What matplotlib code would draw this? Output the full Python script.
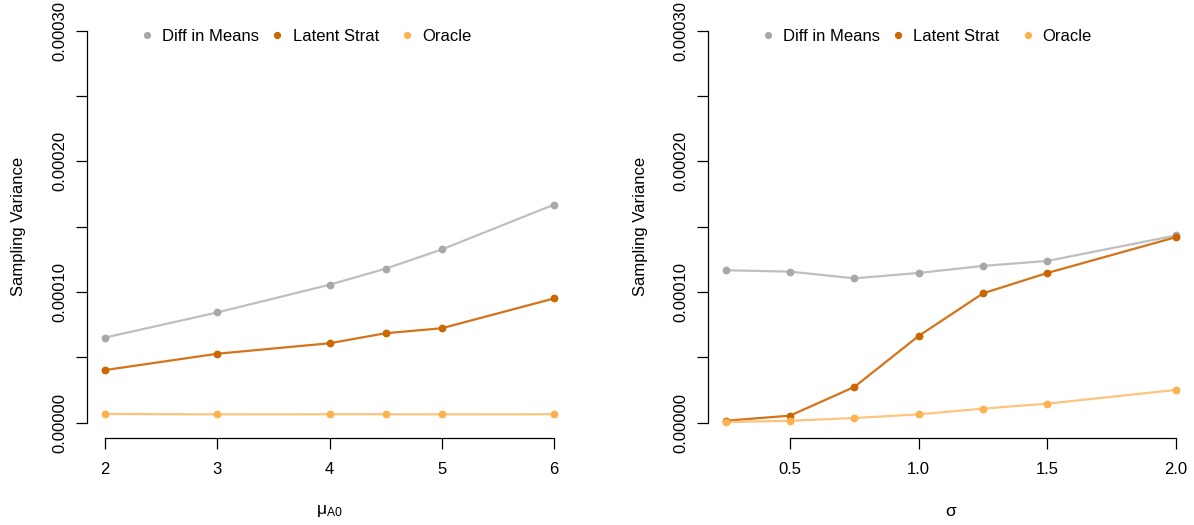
import matplotlib
matplotlib.use("Agg")
import matplotlib.pyplot as plt
from matplotlib.ticker import FixedLocator, FixedFormatter

plt.rcParams['font.family'] = ['Liberation Sans', 'DejaVu Sans']
plt.rcParams['mathtext.fontset'] = 'custom'
plt.rcParams['mathtext.rm'] = 'Liberation Sans'
plt.rcParams['mathtext.it'] = 'Liberation Sans'

# ---------------- data ----------------
series_names = ["Diff in Means", "Latent Strat", "Oracle"]

mu_a0 = [2, 3, 4, 4.5, 5, 6]
mu_diff = [0.0000652, 0.0000844, 0.0001056, 0.0001179, 0.0001326, 0.0001669]
mu_latent = [0.0000403, 0.0000528, 0.0000608, 0.0000685, 0.0000723, 0.0000951]
mu_oracle = [0.0000067, 0.0000064, 0.0000065, 0.0000065, 0.0000064, 0.0000065]

sigma = [0.25, 0.5, 0.75, 1.0, 1.25, 1.5, 2.0]
sg_diff = [0.0001167, 0.0001156, 0.0001105, 0.0001146, 0.0001200, 0.0001238, 0.0001433]
sg_latent = [0.0000015, 0.0000054, 0.0000274, 0.0000664, 0.0000990, 0.0001146, 0.0001420]
sg_oracle = [0.0000005, 0.0000015, 0.0000036, 0.0000064, 0.0000108, 0.0000146, 0.0000251]

y_ticks = [0, 0.00005, 0.0001, 0.00015, 0.0002, 0.00025, 0.0003]
y_ticklabels = ["0.00000", "", "0.00010", "", "0.00020", "", "0.00030"]
mu_xticks = [2, 3, 4, 5, 6]
mu_xticklabels = ["2", "3", "4", "5", "6"]
sg_xticks = [0.5, 1.0, 1.5, 2.0]
sg_xticklabels = ["0.5", "1.0", "1.5", "2.0"]

# ---------------- style ----------------
point_colors = ["#A8A8A8", "#CC6600", "#FDB24E"]
line_colors = ["#BFBFBF", "#D4731A", "#FDC47E"]

W, H = 1194, 525
fig = plt.figure(figsize=(W / 100, H / 100), dpi=100)

def px_rect(l, t, r, b):
    return [l / W, (H - b) / H, (r - l) / W, (b - t) / H]

TOP, BOT = 15.0, 438.4

panels = [
    dict(rect=px_rect(87.25, TOP, 572, BOT), x=mu_a0,
         ys=[mu_diff, mu_latent, mu_oracle], xlim=(1.84, 6.16),
         xticks=mu_xticks, xtl=mu_xticklabels, xb=(2, 6),
         xlabel=r'$\mathrm{\mu}_{\mathrm{A0}}$', left=87.25, ylab_x=19),
    dict(rect=px_rect(707.7, TOP, 1194, BOT), x=sigma,
         ys=[sg_diff, sg_latent, sg_oracle], xlim=(0.18, 2.07),
         xticks=sg_xticks, xtl=sg_xticklabels, xb=(0.5, 2.0),
         xlabel='σ', left=707.7, ylab_x=641),
]

for p in panels:
    ax = fig.add_axes(p['rect'])
    for ys, pc, lc in zip(p['ys'], point_colors, line_colors):
        ax.plot(p['x'], ys, color=lc, lw=1.6, zorder=2, clip_on=False)
        ax.plot(p['x'], ys, ls='none', marker='o', ms=4.6, color=pc,
                mec=pc, zorder=3, clip_on=False)
    ax.set_xlim(*p['xlim'])
    ax.set_ylim(-0.000012, 0.000312)
    for s in ['top', 'right']:
        ax.spines[s].set_visible(False)
    ax.spines['left'].set_bounds(0, 0.0003)
    ax.spines['bottom'].set_bounds(*p['xb'])
    for s in ['left', 'bottom']:
        ax.spines[s].set_linewidth(0.9)
    ax.yaxis.set_major_locator(FixedLocator(y_ticks))
    ax.yaxis.set_major_formatter(FixedFormatter(y_ticklabels))
    ax.xaxis.set_major_locator(FixedLocator(p['xticks']))
    ax.xaxis.set_major_formatter(FixedFormatter(p['xtl']))
    ax.tick_params(axis='both', direction='out', length=7.7, width=0.9,
                   labelsize=12, color='black')
    ax.tick_params(axis='x', pad=9.5)
    ax.tick_params(axis='y', pad=6.5)
    for lab in ax.get_yticklabels():
        lab.set_rotation(90)
        lab.set_va('center')
    ax.set_ylabel("Sampling Variance", fontsize=12)
    ax.yaxis.set_label_coords((p['ylab_x'] - p['left']) / (p['rect'][2] * W), 0.5)
    ax.yaxis.label.set_va('center')
    # x label
    cx = p['rect'][0] + p['rect'][2] / 2
    fig.text(cx, (H - 511) / H, p['xlabel'], ha='center', va='center', fontsize=12.5)
    # legend
    mk_off = [60, 190, 320]
    tx_off = [75, 205.5, 335]
    for name, pc, mo, to in zip(series_names, point_colors, mk_off, tx_off):
        ax.plot([(p['left'] + mo) / W], [(H - 35) / H], marker='o', ms=4.2,
                color=pc, ls='none', transform=fig.transFigure, clip_on=False)
        fig.text((p['left'] + to) / W, (H - 41) / H, name, ha='left',
                 va='baseline', fontsize=12)

fig.savefig("out.png", dpi=100)
